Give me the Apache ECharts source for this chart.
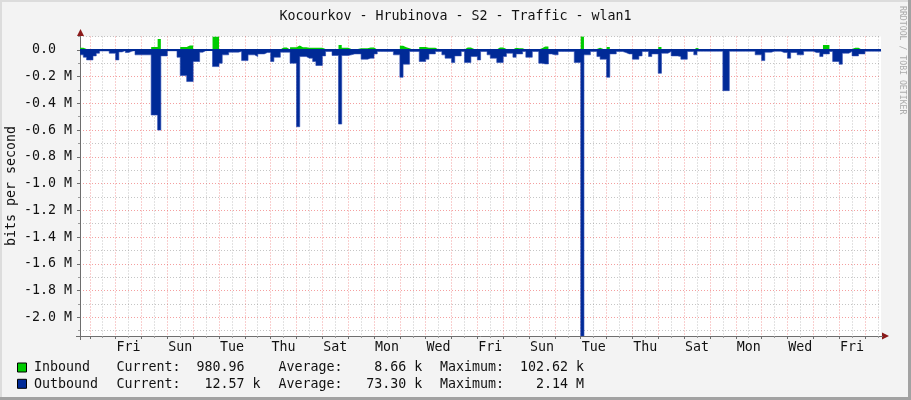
<!DOCTYPE html>
<html>
<head>
<meta charset="utf-8">
<script src="https://cdn.jsdelivr.net/npm/echarts@6/dist/echarts.min.js"></script>
<style>
html,body{margin:0;padding:0;background:#f3f3f3;}
#chart{width:911px;height:400px;}
</style>
</head>
<body>
<div id="chart"></div>
<script>
// ---- data (3-hour samples, hours relative to first Thursday 00:00) ----
const startHour = -9;
const stepHours = 3;
// Inbound traffic, kbit/s
const inboundK = [
 15,7,7,7,3,3,3,3,3,3,
 3,7,3,3,7,7,3,7,7,7,
 7,7,22,22,82,5,5,3,3,3,
 7,22,22,32,32,7,7,3,3,3,
 3,100,100,7,7,7,7,7,7,7,
 7,7,7,7,7,7,7,7,7,3,
 3,3,17,17,3,20,20,32,20,20,
 15,15,15,15,15,7,3,3,3,3,
 37,15,15,7,7,7,12,12,12,17,
 17,3,3,3,3,3,3,3,3,30,
 20,12,3,3,3,22,22,15,15,15,
 3,3,7,7,7,7,7,7,3,17,
 17,7,7,7,3,3,7,7,3,17,
 17,7,3,3,15,12,12,3,7,7,
 3,3,12,25,25,7,3,3,3,3,
 3,7,7,7,7,102.62,7,7,7,7,
 15,7,7,22,7,7,7,7,7,7,
 7,7,7,7,3,3,7,7,7,22,
 7,7,3,7,7,7,7,7,3,3,
 15,3,3,3,3,3,3,3,3,7,
 7,3,3,3,3,3,3,3,3,7,
 7,7,3,3,3,3,3,3,3,7,
 3,3,3,3,3,3,3,3,3,3,
 37,37,3,7,7,7,7,7,7,15,
 15,3,3,3,3,3,3,3,1
];
// Outbound traffic, kbit/s (drawn downward)
const outboundK = [
 37,55,75,75,45,25,8,8,8,25,
 25,75,15,5,20,10,5,37,37,37,
 37,37,487,487,600,45,45,7,7,7,
 55,192,192,237,237,87,87,17,5,5,
 5,125,125,100,37,37,17,17,17,12,
 80,80,37,37,50,30,30,20,20,87,
 55,55,17,17,17,100,100,575,50,50,
 62,62,87,117,117,45,12,12,42,42,
 555,42,42,37,30,30,30,70,70,62,
 62,30,12,12,12,12,12,37,37,205,
 107,107,12,12,12,87,87,70,30,30,
 12,12,37,62,62,95,45,45,12,95,
 95,50,50,75,12,12,37,62,62,95,
 95,50,25,25,55,30,30,12,55,55,
 12,12,100,105,105,30,37,37,12,12,
 12,12,12,95,95,2140,37,37,12,12,
 50,70,70,205,30,30,12,12,20,30,
 30,70,70,45,12,12,50,30,30,175,
 25,25,12,45,45,50,70,70,12,12,
 37,10,10,10,10,10,10,10,10,305,
 305,10,10,10,10,10,10,10,10,37,
 37,80,17,17,10,10,10,20,20,62,
 20,20,37,37,10,10,10,20,20,50,
 30,30,12,87,87,107,25,25,12,45,
 45,30,30,10,10,10,10,10,10
];
// ---- axis ticks / labels ----
const xMin = -9.1, xMax = 734.9;
const xLabelHours = [36,84,132,180,228,276,324,372,420,468,516,564,612,660,708];
const xLabels = ['Fri','Sun','Tue','Thu','Sat','Mon','Wed','Fri','Sun','Tue','Thu','Sat','Mon','Wed','Fri'];
const xMajorHours = [0,24,48,72,96,120,144,168,192,216,240,264,288,312,336,360,384,408,432,456,480,504,528,552,576,600,624,648,672,696,720];
const xMinorHours = [12,36,60,84,108,132,156,180,204,228,252,276,300,324,348,372,396,420,444,468,492,516,540,564,588,612,636,660,684,708,732];
const yMin = -2140000, yMax = 100000;
const yMajorM = [-2.0,-1.8,-1.6,-1.4,-1.2,-1.0,-0.8,-0.6,-0.4,-0.2,0.0];
const yLabels = ['-2.0 M','-1.8 M','-1.6 M','-1.4 M','-1.2 M','-1.0 M','-0.8 M','-0.6 M','-0.4 M','-0.2 M','0.0\u00a0\u00a0'];
const yMinorM = [-2.1,-1.9,-1.7,-1.5,-1.3,-1.1,-0.9,-0.7,-0.5,-0.3,-0.1,0.1];
const titleText = 'Kocourkov - Hrubinova - S2 - Traffic - wlan1';
const yName = 'bits per second';
const watermark = 'RRDTOOL / TOBI OETIKER';
const legendRows = [
  {name:'Inbound',  current:'  980.96  ', average:'    8.66 k', maximum:'  102.62 k'},
  {name:'Outbound', current:'   12.57 k', average:'   73.30 k', maximum:'    2.14 M'}
];
const colors = {inbound:'#00CC00', outbound:'#002A97'};

// ---- build ----
const FONT = "'DejaVu Sans Mono', monospace";
const inData = inboundK.map((v,i)=>[startHour+i*stepHours, v*1000]);
const outData = outboundK.map((v,i)=>[startHour+i*stepHours, -v*1000]);
const yMajor = yMajorM.map(v=>Math.round(v*10)*100000);
const yMinor = yMinorM.map(v=>Math.round(v*10)*100000);
const gridMajor = 'rgba(235,80,80,0.55)';
const gridMinor = 'rgba(140,140,140,0.5)';
const axisCol = '#6e6e6e';

const chart = echarts.init(document.getElementById('chart'), null, {renderer:'canvas'});
const graphics = [
  {type:'rect', shape:{x:0,y:0,width:911,height:2}, style:{fill:'#dcdcdc'}, silent:true},
  {type:'rect', shape:{x:0,y:0,width:2,height:400}, style:{fill:'#dcdcdc'}, silent:true},
  {type:'rect', shape:{x:0,y:397,width:911,height:3}, style:{fill:'#a2a2a2'}, silent:true},
  {type:'rect', shape:{x:908,y:0,width:3,height:400}, style:{fill:'#a2a2a2'}, silent:true},
  {type:'text', x:12, y:186, rotation:Math.PI/2,
   style:{text:yName, font:"13.3px "+FONT, fill:'#111', align:'center', verticalAlign:'middle'}},
  {type:'text', x:902, y:6, rotation:-Math.PI/2,
   style:{text:watermark, font:"8.2px "+FONT, fill:'#aaaaaa', align:'left', verticalAlign:'middle'}},
  {type:'polygon', shape:{points:[[77,36],[84,36],[80.5,29]]}, style:{fill:'#8b1a1a'}, silent:true},
  {type:'polygon', shape:{points:[[882,332.5],[882,339.5],[889,336]]}, style:{fill:'#8b1a1a'}, silent:true},
  {type:'line', shape:{x1:80.5,y1:336,x2:80.5,y2:340}, style:{stroke:axisCol,lineWidth:1}, silent:true},
  {type:'line', shape:{x1:76,y1:336.5,x2:80,y2:336.5}, style:{stroke:axisCol,lineWidth:1}, silent:true},
  {type:'line', shape:{x1:881,y1:336.5,x2:883,y2:336.5}, style:{stroke:axisCol,lineWidth:1}, silent:true}
];
const rowY = [368, 384.3];
const legColors = [colors.inbound, colors.outbound];
legendRows.forEach((r,k)=>{
  const y = rowY[k];
  graphics.push({type:'rect', shape:{x:17.5,y:y-5,width:9,height:9}, style:{fill:legColors[k], stroke:'#000', lineWidth:1}});
  const t = (x,s)=>graphics.push({type:'text', x:x, y:y, style:{text:s, font:"13.3px "+FONT, fill:'#111', align:'left', verticalAlign:'middle'}});
  t(34, r.name);
  t(116.5, 'Current:');
  t(180.4, r.current);
  t(278.5, 'Average:');
  t(342.3, r.average);
  t(440, 'Maximum:');
  t(504, r.maximum);
});

chart.setOption({
  animation:false,
  backgroundColor:'#f3f3f3',
  title:{text:titleText, left:'center', top:5, textStyle:{fontFamily:FONT, fontSize:13.3, fontWeight:'normal', color:'#111'}},
  grid:{left:80, right:30, top:36.5, bottom:64, show:true, backgroundColor:'#ffffff', borderWidth:0},
  graphic:graphics,
  xAxis:[
    {type:'value', min:xMin, max:xMax, position:'bottom',
     axisLine:{show:true, onZero:false, lineStyle:{color:axisCol,width:1}},
     axisTick:{show:true, customValues:xMajorHours, length:3, lineStyle:{color:axisCol}},
     axisLabel:{show:true, customValues:xLabelHours, margin:5, fontFamily:FONT, fontSize:13.3, color:'#111',
       formatter:(v)=>{const k=xLabelHours.indexOf(Math.round(v)); return k>=0?xLabels[k]:'';}},
     splitLine:{show:true, lineStyle:{color:gridMajor, type:[1,2], width:1}}},
    {type:'value', min:xMin, max:xMax, position:'bottom',
     axisLine:{show:false, onZero:false},
     axisTick:{show:true, customValues:xMinorHours, length:2, lineStyle:{color:'#9a9a9a'}},
     axisLabel:{show:false},
     splitLine:{show:true, lineStyle:{color:gridMinor, type:[1,2], width:1}}}
  ],
  yAxis:[
    {type:'value', min:yMin, max:yMax, position:'left',
     axisLine:{show:true, onZero:false, lineStyle:{color:axisCol,width:1}},
     axisTick:{show:true, customValues:yMajor, length:3, lineStyle:{color:axisCol}},
     axisLabel:{show:true, customValues:yMajor, margin:8, fontFamily:FONT, fontSize:13.3, color:'#111',
       formatter:(v)=>{const k=yMajor.indexOf(Math.round(v/100000)*100000); return k>=0?yLabels[k]:'';}},
     splitLine:{show:true, lineStyle:{color:gridMajor, type:[1,2], width:1}}},
    {type:'value', min:yMin, max:yMax, position:'left',
     axisLine:{show:false, onZero:false},
     axisTick:{show:true, customValues:yMinor, length:2, lineStyle:{color:'#9a9a9a'}},
     axisLabel:{show:false},
     splitLine:{show:true, lineStyle:{color:gridMinor, type:[1,2], width:1}}}
  ],
  series:[
    {name:'Inbound', type:'line', xAxisIndex:0, yAxisIndex:0, data:inData, step:'end',
     symbol:'none', lineStyle:{width:0, color:colors.inbound}, itemStyle:{color:colors.inbound},
     areaStyle:{color:colors.inbound, opacity:1}, z:3},
    {name:'Outbound', type:'line', xAxisIndex:0, yAxisIndex:0, data:outData, step:'end',
     symbol:'none', lineStyle:{width:0.6, color:'#2a48b0'}, itemStyle:{color:colors.outbound},
     areaStyle:{color:colors.outbound, opacity:1}, z:4,
     markLine:{silent:true, symbol:'none', label:{show:false},
       lineStyle:{color:colors.outbound, width:2, type:'solid'}, data:[{yAxis:0}]}}
  ]
});
</script>
</body>
</html>
